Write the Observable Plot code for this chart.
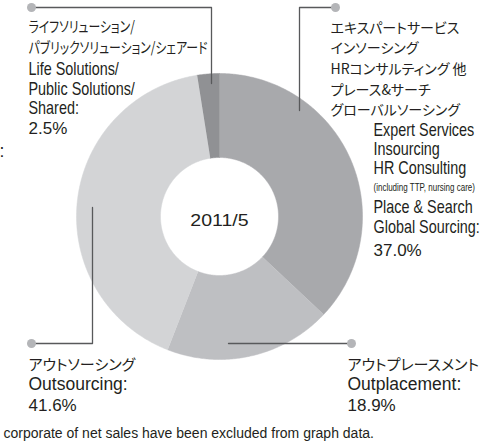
<!DOCTYPE html>
<html><head><meta charset="utf-8">
<script src="https://cdn.jsdelivr.net/npm/d3@7"></script>
<script src="https://cdn.jsdelivr.net/npm/@observablehq/plot@0.6"></script>
<style>
html,body{margin:0;padding:0;background:#fff;}
svg text{font-feature-settings:"palt" 1;}
</style></head><body><div id="chart"></div>
<script>
// ---- data ----
const categories = ["Expert Services", "Outplacement", "Outsourcing", "Shared"];
const shares = [37.0, 18.9, 41.6, 2.5];
const periodLabel = "2011/5";
const jaLabels = [
  ["エキスパートサービス", "インソーシング", "HRコンサルティング 他", "プレース&サーチ", "グローバルソーシング"],
  ["アウトプレースメント"],
  ["アウトソーシング"],
  ["ライフソリューション/", "パブリックソリューション/シェアード"]
];
const enLabels = [
  ["Expert Services", "Insourcing", "HR Consulting", "(including TTP, nursing care)", "Place & Search", "Global Sourcing:"],
  ["Outplacement:"],
  ["Outsourcing:"],
  ["Life Solutions/", "Public Solutions/", "Shared:"]
];
const footnote = "corporate of net sales have been excluded from graph data.";
const strayText = ":";

// ---- styles / layout ----
const sliceColors = ["#a8a9ac", "#bebfc2", "#d3d4d6", "#909194"];
const W = 502, H = 443;
const cx = 219, cy = 216, rOuter = 143, rInner = 59;
const labelLayout = [
  {jaX: 330, jaY: [32, 52.5, 73.5, 94, 114], jaFont: "jaTR", enX: 373, enY: [135, 154, 173, 190, 212, 232], pctX: 373, pctY: 255, enFont: "cond"},
  {jaX: 347, jaY: [369], jaFont: "jaB", enX: 347, enY: [389], pctX: 347, pctY: 410, enFont: "reg"},
  {jaX: 28, jaY: [369], jaFont: "jaB", enX: 28, enY: [389], pctX: 28, pctY: 410, enFont: "reg"},
  {jaX: 28, jaY: [31, 52], jaFont: "jaTL", enX: 28, enY: [74, 94, 113], pctX: 28, pctY: 133, enFont: "cond"}
];
const leaderPaths = [
  [[335, 7], [299, 7], [299, 110]],
  [[351, 343], [228, 343]],
  [[31, 343], [92, 343], [92, 207]],
  [[31, 7], [211, 7], [211, 83]]
];

// ---- build ring polygons from the pie layout ----
const slices = categories.map((c, i) => ({category: c, share: shares[i]}));
const arcs = d3.pie().sort(null).value(d => d.share)(slices);
const ring = [];
for (const a of arcs) {
  const n = Math.max(2, Math.ceil((a.endAngle - a.startAngle) / 0.01));
  for (let k = 0; k <= n; k++) {
    const t = a.startAngle + (a.endAngle - a.startAngle) * k / n;
    ring.push({category: a.data.category, x: cx + rOuter * Math.sin(t), y: cy - rOuter * Math.cos(t)});
  }
  for (let k = n; k >= 0; k--) {
    const t = a.startAngle + (a.endAngle - a.startAngle) * k / n;
    ring.push({category: a.data.category, x: cx + rInner * Math.sin(t), y: cy - rInner * Math.cos(t)});
  }
}

// ---- text lines ----
const texts = [];
categories.forEach((c, i) => {
  const L = labelLayout[i];
  jaLabels[i].forEach((t, k) => texts.push({x: L.jaX, y: L.jaY[k], text: t, font: L.jaFont}));
  enLabels[i].forEach((t, k) => texts.push({x: L.enX, y: L.enY[k], text: t, font: t.startsWith("(") ? "small" : L.enFont}));
  texts.push({x: L.pctX, y: L.pctY, text: d3.format(".1f")(shares[i]) + "%", font: "pct"});
});
texts.push({x: cx, y: cy + 9, text: periodLabel, font: "center"});
texts.push({x: 3, y: 437, text: footnote, font: "foot"});
texts.push({x: -1, y: 156, text: strayText, font: "reg"});

const SANS = "'Liberation Sans', Arial, sans-serif";
const CJK = "'Noto Sans CJK JP', sans-serif";
const fonts = {
  jaTL: {fontFamily: CJK, fontSize: 15, scale: 0.79},
  jaTR: {fontFamily: CJK, fontSize: 14, scale: 1},
  jaB: {fontFamily: CJK, fontSize: 15, scale: 1},
  cond: {fontFamily: SANS, fontSize: 18, scale: 0.8},
  small: {fontFamily: SANS, fontSize: 10, scale: 0.8},
  reg: {fontFamily: SANS, fontSize: 17.5, scale: 1},
  pct: {fontFamily: SANS, fontSize: 17, scale: 1},
  center: {fontFamily: SANS, fontSize: 17, scale: 1.15},
  foot: {fontFamily: SANS, fontSize: 14, scale: 1}
};

const leaderPts = leaderPaths.flatMap((p, i) => p.map(([x, y]) => ({category: categories[i], x, y})));
const leaderDots = leaderPaths.map((p, i) => ({category: categories[i], x: p[0][0], y: p[0][1]}));

const textMarks = Object.entries(fonts).map(([key, f]) =>
  Plot.text(texts.filter(d => d.font === key), {
    x: "x", y: "y", text: "text",
    textAnchor: key === "center" ? "middle" : "start",
    lineAnchor: "bottom",
    fill: "#231f20",
    fontFamily: f.fontFamily, fontSize: f.fontSize,
    ariaDescription: "font-" + key
  })
);

const chart = Plot.plot({
  width: W, height: H, margin: 0,
  x: {domain: [0, W], range: [0, W], axis: null},
  y: {domain: [0, H], range: [0, H], axis: null},
  color: {domain: categories, range: sliceColors},
  style: {background: "#fff", color: "#231f20", overflow: "visible"},
  marks: [
    Plot.line(ring, {x: "x", y: "y", z: "category", fill: "category", stroke: "category", strokeWidth: 0.5}),
    Plot.line(leaderPts, {x: "x", y: "y", z: "category", stroke: "#58595b", strokeWidth: 1.3}),
    Plot.dot(leaderDots, {x: "x", y: "y", r: 4.5, fill: "#b4b5b8", stroke: null}),
    ...textMarks
  ]
});

// horizontal compression of condensed type (style only)
Object.entries(fonts).forEach(([key, f]) => {
  if (f.scale === 1) return;
  d3.select(chart).selectAll(`g[aria-description="font-${key}"] text`).each(function () {
    const t = this.getAttribute("transform") || "";
    const x = +(this.getAttribute("x") || 0), y = +(this.getAttribute("y") || 0);
    this.removeAttribute("x"); this.removeAttribute("y");
    this.setAttribute("transform", `${t} translate(${x},${y}) scale(${f.scale},1)`);
  });
});
document.getElementById("chart").appendChild(chart);
</script></body></html>
